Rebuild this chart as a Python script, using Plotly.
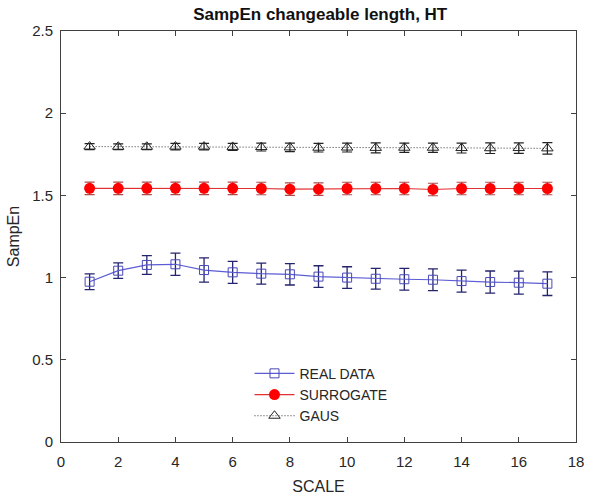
import plotly.graph_objects as go

scale = list(range(1, 18))
real_data = [0.975, 1.042, 1.077, 1.081, 1.046, 1.032, 1.024, 1.020, 1.006, 1.000,
             0.993, 0.990, 0.987, 0.979, 0.973, 0.969, 0.963]
real_err = [0.048, 0.047, 0.057, 0.068, 0.074, 0.067, 0.064, 0.065, 0.066, 0.066,
            0.063, 0.066, 0.066, 0.067, 0.067, 0.070, 0.072]
surrogate = [1.543, 1.543, 1.543, 1.543, 1.543, 1.543, 1.542, 1.538, 1.538, 1.542,
             1.542, 1.542, 1.536, 1.542, 1.542, 1.542, 1.542]
surr_err = [0.038] * 17
gaus = [1.797, 1.796, 1.796, 1.797, 1.797, 1.795, 1.794, 1.792, 1.790, 1.791,
        1.789, 1.790, 1.790, 1.788, 1.787, 1.788, 1.786]
gaus_err = [0.018, 0.018, 0.018, 0.020, 0.020, 0.022, 0.024, 0.026, 0.026, 0.027,
            0.030, 0.028, 0.028, 0.030, 0.032, 0.032, 0.035]

xticks = list(range(0, 19, 2))
yticks = [0, 0.5, 1, 1.5, 2, 2.5]
ytick_labels = ["0", "0.5", "1", "1.5", "2", "2.5"]

FONT = "Liberation Sans, Arial"

fig = go.Figure()
fig.add_trace(go.Scatter(
    x=scale, y=real_data, name="REAL DATA", mode="lines+markers",
    line=dict(color="#5c5cd4", width=1.2),
    marker=dict(symbol="square-open", size=9, color="#4848b8", line=dict(width=1)),
    error_y=dict(type="data", array=real_err, color="#24246e", thickness=1.3, width=5),
))
fig.add_trace(go.Scatter(
    x=scale, y=surrogate, name="SURROGATE", mode="lines+markers",
    line=dict(color="#e03030", width=1.2),
    marker=dict(symbol="circle", size=11, color="#ff0000"),
    error_y=dict(type="data", array=surr_err, color="#b04848", thickness=1.2, width=5),
))
fig.add_trace(go.Scatter(
    x=scale, y=gaus, name="GAUS", mode="lines+markers",
    line=dict(color="#333333", width=1, dash="1px,2px"),
    marker=dict(symbol="triangle-up-open", size=10, color="#222222", line=dict(width=1)),
    error_y=dict(type="data", array=gaus_err, color="#222222", thickness=1.2, width=5),
))

axis_common = dict(
    showline=True, linecolor="#404040", linewidth=1, mirror="ticks",
    ticks="inside", ticklen=5, tickcolor="#404040",
    showgrid=False, zeroline=False, automargin=False,
    tickfont=dict(family=FONT, size=15, color="#262626"),
)
fig.update_xaxes(range=[0, 18], tickvals=xticks, ticklabelstandoff=6, **axis_common,
                 title=dict(text="SCALE", font=dict(family=FONT, size=16, color="#262626"), standoff=11))
fig.update_yaxes(range=[0, 2.5], tickvals=yticks, ticktext=ytick_labels, ticklabelstandoff=4,
                 **axis_common,
                 title=dict(text="SampEn", font=dict(family=FONT, size=16, color="#262626"), standoff=8))

fig.update_layout(
    width=593, height=496,
    margin=dict(l=61, r=17, t=31, b=54),
    paper_bgcolor="white", plot_bgcolor="white",
    title=dict(text="<b>SampEn changeable length, HT</b>", x=0.54, xanchor="center",
               y=0.972, yanchor="middle",
               font=dict(family=FONT, size=17, color="#111111")),
    legend=dict(x=0.366, y=0.205, xanchor="left", yanchor="top",
                bgcolor="rgba(255,255,255,0)", borderwidth=0,
                font=dict(family=FONT, size=14, color="#262626"),
                tracegroupgap=0, itemwidth=40),
    showlegend=True,
)

fig.write_html("out.html")
